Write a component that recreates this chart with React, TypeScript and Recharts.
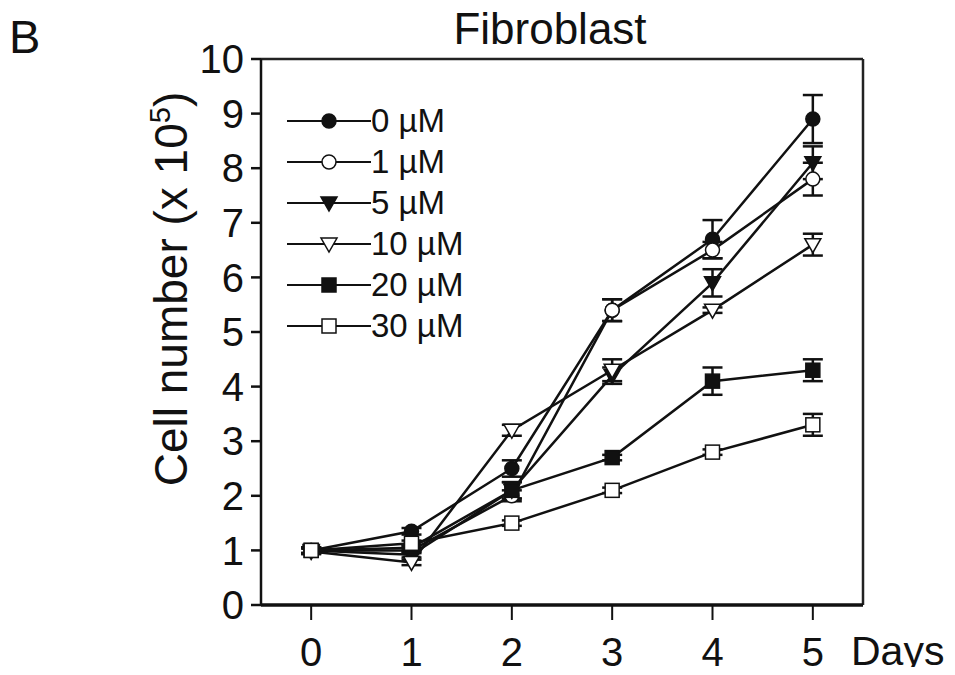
import React from 'react'
import { ComposedChart, Line, XAxis, YAxis, ErrorBar, ReferenceLine } from 'recharts'

const days = [0, 1, 2, 3, 4, 5]
const seriesNames = ['0 µM', '1 µM', '5 µM', '10 µM', '20 µM', '30 µM']
const v0 = [1.0, 1.35, 2.5, 5.4, 6.7, 8.9]
const v1 = [1.0, 1.0, 2.0, 5.4, 6.5, 7.8]
const v5 = [1.0, 0.92, 2.1, 4.2, 5.9, 8.1]
const v10 = [0.98, 0.78, 3.2, 4.3, 5.4, 6.6]
const v20 = [1.0, 1.05, 2.1, 2.7, 4.1, 4.3]
const v30 = [1.0, 1.13, 1.5, 2.1, 2.8, 3.3]
const e0 = [0.05, 0.06, 0.15, 0.2, 0.35, 0.44]
const e1 = [0.05, 0.05, 0.1, 0.2, 0.15, 0.3]
const e5 = [0.05, 0.05, 0.15, 0.15, 0.25, 0.3]
const e10 = [0.05, 0.05, 0.1, 0.2, 0.05, 0.2]
const e20 = [0.05, 0.05, 0.15, 0.05, 0.25, 0.2]
const e30 = [0.05, 0.05, 0.05, 0.05, 0.05, 0.2]
const yTicks = [0, 1, 2, 3, 4, 5, 6, 7, 8, 9, 10]

const values = [v0, v1, v5, v10, v20, v30]
const errors = [e0, e1, e5, e10, e20, e30]
const shapes = ['circleFilled', 'circleOpen', 'triFilled', 'triOpen', 'squareFilled', 'squareOpen']

const data = days.map((d, i) => {
  const row: Record<string, number> = { day: d }
  values.forEach((s, k) => {
    row['v' + k] = s[i]
    row['e' + k] = errors[k][i]
  })
  return row
})

const FONT = 'Liberation Sans, Arial, sans-serif'

function Marker({ kind, cx, cy }: { kind: string; cx: number; cy: number }) {
  const fill = kind.endsWith('Filled') ? '#111' : '#fff'
  const common = { fill, stroke: '#111', strokeWidth: 1.5 }
  if (kind.startsWith('circle')) return <circle cx={cx} cy={cy} r={7} {...common} />
  if (kind.startsWith('tri'))
    return <polygon points={`${cx - 8},${cy - 6} ${cx + 8},${cy - 6} ${cx},${cy + 8}`} {...common} />
  return <rect x={cx - 7} y={cy - 7} width={14} height={14} {...common} />
}

function LegendBox() {
  return (
    <div style={{ position: 'absolute', left: 287, top: 100, fontFamily: FONT, fontSize: 33, color: '#111' }}>
      {seriesNames.map((name, k) => (
        <div key={name} style={{ display: 'flex', alignItems: 'center', height: 41 }}>
          <svg width={84} height={20} style={{ display: 'block' }}>
            <line x1={0} y1={10} x2={84} y2={10} stroke="#111" strokeWidth={2} />
            <Marker kind={shapes[k]} cx={42} cy={10} />
          </svg>
          <span style={{ lineHeight: '41px' }}>{name}</span>
        </div>
      ))}
    </div>
  )
}

export default function App() {
  return (
    <div style={{ position: 'relative', width: 955, height: 675, margin: -8, background: '#fff' }}>
      <ComposedChart
        width={955}
        height={675}
        data={data}
        margin={{ top: 59, right: 92, bottom: 10, left: 191 }}
      >
        <XAxis
          dataKey="day"
          type="number"
          domain={[-0.5, 5.5]}
          ticks={days}
          height={60}
          tickSize={15}
          tickMargin={18}
          axisLine={{ stroke: '#111', strokeWidth: 3.5 }}
          tickLine={{ stroke: '#111', strokeWidth: 2 }}
          tick={{ fill: '#111', fontSize: 40, fontFamily: FONT }}
        />
        <YAxis
          type="number"
          domain={[0, 10]}
          ticks={yTicks}
          interval={0}
          width={70}
          tickSize={10}
          tickMargin={7}
          axisLine={{ stroke: '#111', strokeWidth: 2.5 }}
          tickLine={{ stroke: '#111', strokeWidth: 2.5 }}
          tick={{ fill: '#111', fontSize: 40, fontFamily: FONT }}
        />
        <ReferenceLine y={10} stroke="#222" strokeWidth={2.5} />
        <ReferenceLine x={5.5} stroke="#222" strokeWidth={2.5} />
        {values.map((_, k) => (
          <Line
            key={k}
            dataKey={'v' + k}
            name={seriesNames[k]}
            stroke="#111"
            strokeWidth={2.5}
            isAnimationActive={false}
            dot={(p: any) => <Marker key={`d${k}-${p.index}`} kind={shapes[k]} cx={p.cx} cy={p.cy} />}
            activeDot={false}
          >
            <ErrorBar dataKey={'e' + k} width={10} stroke="#111" strokeWidth={2.5} direction="y" />
          </Line>
        ))}
      </ComposedChart>
      <LegendBox />
      <div style={{ position: 'absolute', left: 9, top: 9, fontFamily: FONT, fontSize: 47, color: '#111' }}>B</div>
      <div
        style={{
          position: 'absolute',
          left: 550,
          top: 4,
          transform: 'translateX(-50%)',
          fontFamily: FONT,
          fontSize: 44,
          color: '#111',
          whiteSpace: 'nowrap',
        }}
      >
        Fibroblast
      </div>
      <div
        style={{
          position: 'absolute',
          left: 851,
          top: 628,
          fontFamily: FONT,
          fontSize: 41,
          color: '#111',
        }}
      >
        Days
      </div>
      <div
        style={{
          position: 'absolute',
          left: 170,
          top: 289,
          transform: 'translate(-50%, -50%) rotate(-90deg)',
          whiteSpace: 'nowrap',
          fontFamily: FONT,
          fontSize: 46,
          lineHeight: 1,
          color: '#111',
        }}
      >
        Cell number (x 10<sup style={{ fontSize: 29 }}>5</sup>)
      </div>
    </div>
  )
}
